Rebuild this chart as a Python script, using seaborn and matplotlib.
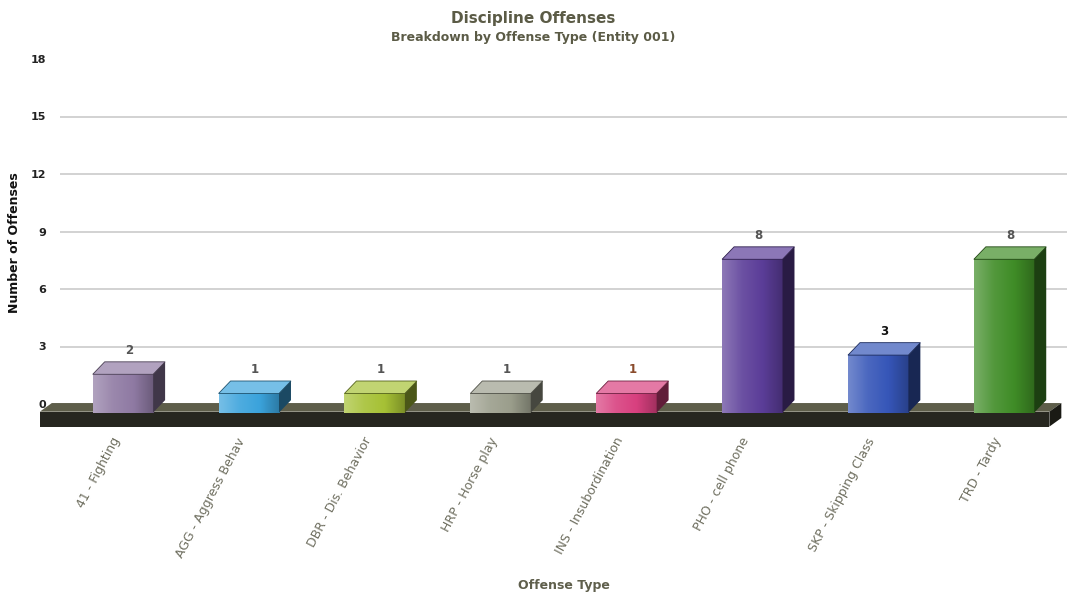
import numpy as np
import pandas as pd
import matplotlib
matplotlib.use("Agg")
import matplotlib.pyplot as plt
import matplotlib.transforms as mtransforms
import seaborn as sns
from matplotlib.patches import Polygon, Rectangle
from matplotlib.colors import to_rgb, LinearSegmentedColormap

offense_types = ["41 - Fighting", "AGG - Aggress Behav", "DBR - Dis. Behavior", "HRP - Horse play",
                 "INS - Insubordination", "PHO - cell phone", "SKP - Skipping Class", "TRD - Tardy"]
offense_counts = [2, 1, 1, 1, 1, 8, 3, 8]
bar_colors = ["#8f7aa3", "#3ba3dc", "#a6c135", "#9b9e8c", "#d8407f", "#5b3d98", "#3656b8", "#3f8c26"]
value_colors = ["#555555", "#555555", "#555555", "#555555", "#8a4b2c", "#555555", "#111111", "#555555"]
y_ticks = [0, 3, 6, 9, 12, 15, 18]

df = pd.DataFrame({"type": offense_types, "count": offense_counts})

sns.set_style("white")
plt.rcParams['font.family'] = ['DejaVu Sans']


def shade(c, f):
    r = np.array(to_rgb(c))
    if f < 0:
        return tuple(r * (1 + f))
    return tuple(r + (1 - r) * f)


fig = plt.figure(figsize=(10.67, 5.94), dpi=100)
ax = fig.add_axes([60 / 1067, 1 - 427 / 594, 1007 / 1067, (427 - 59) / 594])

sns.barplot(data=df, x="type", y="count", hue="type", palette=bar_colors, saturation=1,
            width=0.48, legend=False, ax=ax, zorder=4, linewidth=0)

# depth of the fake 3d boxes (data units)
dx, dy, shift = 0.095, 0.65, 0.45

# gridlines
for t in y_ticks[1:-1]:
    ax.axhline(t, color="#cfcfcf", lw=1.3, zorder=0)

# floor slab
fx0, fx1 = -0.66, 7.36
f_top, f_bot = -0.4, -1.18
ax.add_patch(Polygon([(fx0, f_top), (fx1, f_top), (fx1 + dx, f_top + 0.45), (fx0 + dx, f_top + 0.45)],
                     closed=True, fc="#5e5e4a", ec="none", zorder=2, clip_on=False))
ax.add_patch(Rectangle((fx0, f_bot), fx1 - fx0, f_top - f_bot, fc="#26261f", ec="none",
                       zorder=2, clip_on=False))
ax.add_patch(Polygon([(fx1, f_bot), (fx1 + dx, f_bot + 0.45), (fx1 + dx, f_top + 0.45), (fx1, f_top)],
                     closed=True, fc="#1a1a14", ec="none", zorder=2, clip_on=False))

# turn the flat bars into boxes
for p, c, vc in zip(ax.patches[:len(offense_counts)], bar_colors, value_colors):
    x0, w, h = p.get_x(), p.get_width(), p.get_height()
    p.set_y(-shift)
    top = h - shift
    cmap = LinearSegmentedColormap.from_list("g", [shade(c, 0.3), shade(c, 0.1), c, shade(c, -0.25)])
    grad = np.linspace(0, 1, 64).reshape(1, -1)
    im = ax.imshow(grad, cmap=cmap, aspect="auto", extent=(x0, x0 + w, -shift, top), zorder=4)
    im.set_clip_path(p)
    ax.add_patch(Polygon([(x0, top), (x0 + w, top), (x0 + w + dx, top + dy), (x0 + dx, top + dy)],
                         closed=True, fc=shade(c, 0.3), ec=shade(c, -0.5), lw=0.6, zorder=5))
    ax.add_patch(Polygon([(x0 + w, -shift), (x0 + w + dx, -shift + dy), (x0 + w + dx, top + dy), (x0 + w, top)],
                         closed=True, fc=shade(c, -0.55), ec="none", zorder=5))
    ax.text(x0 + w / 2 + dx / 2, h + 0.8, f"{int(h)}", ha="center", va="center",
            fontsize=8.5, fontweight="bold", color=vc, zorder=6)

ax.set_xlim(-0.5, 7.5)
ax.set_ylim(-1.2, 18)
ax.set_yticks(y_ticks)
ax.set_yticklabels([str(t) for t in y_ticks], fontsize=8, fontweight="bold", color="#222222")
ax.tick_params(axis="y", length=0, pad=10)
ax.tick_params(axis="x", length=0, pad=6)
ax.set_xticks(range(len(offense_types)))
ax.set_xticklabels(offense_types, rotation=62, ha="right", rotation_mode="anchor",
                   fontsize=9, color="#6f6f60")
offset = mtransforms.ScaledTranslation(-12 / 100, 0, fig.dpi_scale_trans)
for lbl in ax.get_xticklabels():
    lbl.set_transform(lbl.get_transform() + offset)
for s in ax.spines.values():
    s.set_visible(False)

ax.set_xlabel("Offense Type", fontsize=9, fontweight="bold", color="#5f5f4c", va="center")
ax.xaxis.set_label_coords(0.5, (427 - 585) / 368)
ax.set_ylabel("Number of Offenses", fontsize=9, fontweight="bold", color="#111111", va="center")
ax.yaxis.set_label_coords((15 - 60) / 1007, 0.5)

fig.text(0.5, 1 - 18 / 594, "Discipline Offenses", ha="center", va="center",
         fontsize=11, fontweight="bold", color="#5b5b46")
fig.text(0.5, 1 - 38 / 594, "Breakdown by Offense Type (Entity 001)", ha="center", va="center",
         fontsize=9, fontweight="bold", color="#5b5b46")

fig.savefig("out.png", dpi=100)
plt.close("all")
